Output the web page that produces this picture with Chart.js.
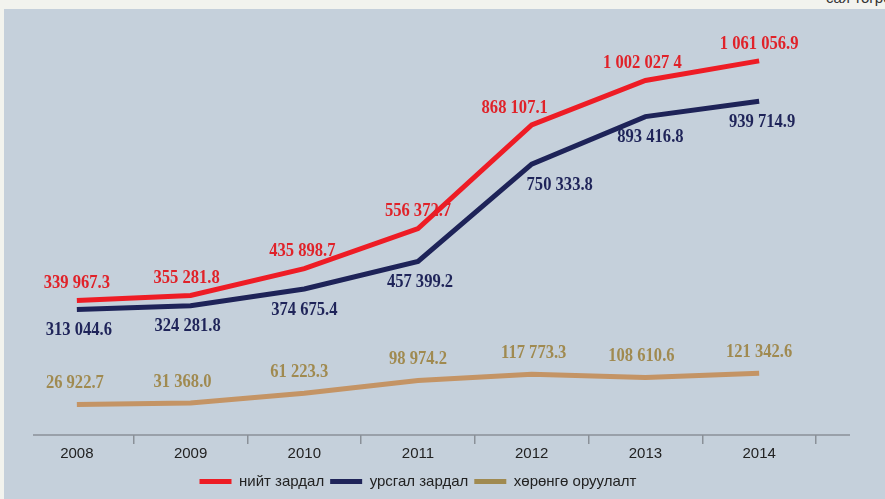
<!DOCTYPE html>
<html>
<head>
<meta charset="utf-8">
<script src="https://cdn.jsdelivr.net/npm/chart.js@4"></script>
<style>
  html, body { margin: 0; padding: 0; }
  body { width: 885px; height: 499px; background: #f2f3ee; position: relative; overflow: hidden; }
  #unit { position: absolute; right: -12px; top: -11px; font: 15px "Liberation Sans", Arial, sans-serif; color: #333; }
  #wrap { position: absolute; left: 4px; top: 9px; width: 881px; height: 490px; background: #c5d0db; }
</style>
</head>
<body>
<div id="unit">сая төгрөг</div>
<div id="wrap"><canvas id="chart"></canvas></div>
<script>
// Data
const years = ['2008', '2009', '2010', '2011', '2012', '2013', '2014'];
const totalSpend = [339967.3, 355281.8, 435898.7, 556372.7, 868107.1, 1002027.4, 1061056.9];
const currentSpend = [313044.6, 324281.8, 374675.4, 457399.2, 750333.8, 893416.8, 939714.9];
const investment = [26922.7, 31368.0, 61223.3, 98974.2, 117773.3, 108610.6, 121342.6];
const totalLabels = ['339 967.3', '355 281.8', '435 898.7', '556 372.7', '868 107.1', '1 002 027 4', '1 061 056.9'];
const currentLabels = ['313 044.6', '324 281.8', '374 675.4', '457 399.2', '750 333.8', '893 416.8', '939 714.9'];
const investLabels = ['26 922.7', '31 368.0', '61 223.3', '98 974.2', '117 773.3', '108 610.6', '121 342.6'];

// label placement (dx, dy from the point) per series
const labelOffsets = [
  { dy: -17, dx: [0, -4, -2, 0, -17, -3, 0] },
  { dy: 21, dx: [2, -3, 0, 2, 28, 5, 3] },
  { dy: -21, dx: [-2, -8, -5, 0, 2, -4, 0] }
];
const labelColors = ['#e02229', '#1f2459', '#a08a50'];
const legendColors = ['#ed1c24', '#1f2459', '#a08a50'];
const sans = '"Liberation Sans", Arial, sans-serif';

// value labels + extended axis line
const extras = {
  id: 'extras',
  afterDatasetsDraw(chart) {
    const ctx = chart.ctx;
    const area = chart.chartArea;
    ctx.save();
    ctx.strokeStyle = '#8a9098';
    ctx.lineWidth = 1.5;
    ctx.beginPath();
    ctx.moveTo(29, area.bottom);
    ctx.lineTo(846, area.bottom);
    ctx.stroke();

    ctx.font = 'bold 18px "Liberation Serif", "Times New Roman", serif';
    ctx.textAlign = 'center';
    ctx.textBaseline = 'middle';
    const allLabels = [totalLabels, currentLabels, investLabels];
    chart.data.datasets.forEach((ds, i) => {
      const meta = chart.getDatasetMeta(i);
      ctx.fillStyle = labelColors[i];
      meta.data.forEach((pt, j) => {
        ctx.save();
        ctx.translate(pt.x + labelOffsets[i].dx[j], pt.y + labelOffsets[i].dy);
        ctx.scale(0.92, 1);
        ctx.fillText(allLabels[i][j], 0, 0);
        ctx.restore();
      });
    });
    ctx.restore();
  }
};

const ctx = document.getElementById('chart').getContext('2d');
new Chart(ctx, {
  type: 'line',
  data: {
    labels: years,
    datasets: [
      { label: 'нийт зардал', data: totalSpend, borderColor: '#ee1c25', backgroundColor: '#ee1c25' },
      { label: 'урсгал зардал', data: currentSpend, borderColor: '#1e2358', backgroundColor: '#1e2358' },
      { label: 'хөрөнгө оруулалт', data: investment, borderColor: '#c49465', backgroundColor: '#a08a50' }
    ]
  },
  options: {
    responsive: true,
    maintainAspectRatio: false,
    animation: false,
    elements: {
      line: { borderWidth: 5, tension: 0, borderCapStyle: 'butt', borderJoinStyle: 'miter' },
      point: { radius: 0, hoverRadius: 0 }
    },
    layout: { padding: { top: 10, left: 16, right: 69, bottom: 0 } },
    scales: {
      x: {
        offset: true,
        border: { display: false },
        grid: {
          offset: true,
          drawOnChartArea: false,
          tickLength: 9,
          lineWidth: 1.5,
          color: (c) => c.index === 0 ? 'rgba(0,0,0,0)' : '#8a9098'
        },
        ticks: {
          color: '#222',
          padding: 1,
          font: { family: sans, size: 15 }
        },
        afterFit: (scale) => { scale.height += 4; }
      },
      y: {
        display: false,
        min: -64700,
        max: 1187000
      }
    },
    plugins: {
      legend: {
        position: 'bottom',
        labels: {
          boxWidth: 32,
          boxHeight: 5,
          padding: 6,
          color: '#222',
          font: { family: sans, size: 15 },
          generateLabels: (chart) => {
            const items = Chart.defaults.plugins.legend.labels.generateLabels(chart);
            items.forEach((it, i) => {
              it.fillStyle = legendColors[i];
              it.strokeStyle = legendColors[i];
              it.lineWidth = 0;
            });
            return items;
          }
        }
      },
      tooltip: { enabled: false }
    }
  },
  plugins: [extras]
});
</script>
</body>
</html>
